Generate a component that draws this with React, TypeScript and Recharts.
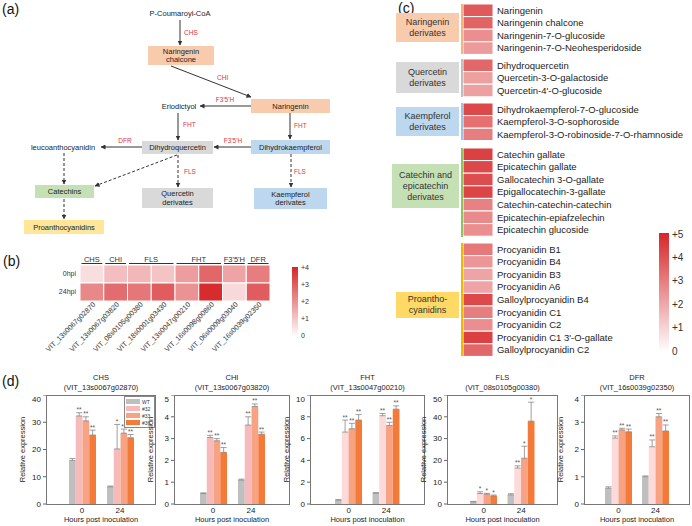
import React from 'react';
import { ScatterChart, Scatter, BarChart, Bar, XAxis, YAxis, ErrorBar, LabelList } from 'recharts';

const FONT = '"Liberation Sans", Arial, Helvetica, sans-serif';
const RED = '#e0383a';

// ---------- panel (b): gene expression heatmap ----------
const geneIds = [
  'VIT_13s0067g02870',
  'VIT_13s0067g03820',
  'VIT_08s0105g00380',
  'VIT_18s0001g03430',
  'VIT_13s0047g00210',
  'VIT_16s0098g00860',
  'VIT_06s0009g03040',
  'VIT_16s0039g02350',
];
const geneEnzymes = ['CHS', 'CHI', 'FLS', 'FHT', "F3'5'H", 'DFR'];
const enzymeSpans = [1, 1, 2, 2, 1, 1];
const hpiRows = ['0hpi', '24hpi'];
const hpi0Fold = [0.6, 1.2, 1.3, 1.1, 1.8, 2.8, 1.7, 2.4];
const hpi24Fold = [2.2, 2.7, 2.5, 3.0, 2.0, 3.9, 0.7, 3.0];
const geneScaleTicks = ['+4', '+3', '+2', '+1', '0'];

// ---------- panel (c): metabolite heatmap ----------
const naringeninNames = ['Naringenin', 'Naringenin chalcone', 'Naringenin-7-O-glucoside', 'Naringenin-7-O-Neohesperidoside'];
const naringeninFold = [3.8, 3.6, 2.6, 2.3];
const quercetinNames = ['Dihydroquercetin', 'Quercetin-3-O-galactoside', "Quercetin-4'-O-glucoside"];
const quercetinFold = [3.5, 2.2, 2.2];
const kaempferolNames = ['Dihydrokaempferol-7-O-glucoside', 'Kaempferol-3-O-sophoroside', 'Kaempferol-3-O-robinoside-7-O-rhamnoside'];
const kaempferolFold = [4.2, 3.3, 3.0];
const catechinNames = [
  'Catechin gallate',
  'Epicatechin gallate',
  'Gallocatechin 3-O-gallate',
  'Epigallocatechin-3-gallate',
  'Catechin-catechin-catechin',
  'Epicatechin-epiafzelechin',
  'Epicatechin glucoside',
];
const catechinFold = [4.4, 4.2, 4.1, 4.3, 2.9, 2.7, 2.6];
const proanthoNames = [
  'Procyanidin B1',
  'Procyanidin B4',
  'Procyanidin B3',
  'Procyanidin A6',
  'Galloylprocyanidin B4',
  'Procyanidin C1',
  'Procyanidin C2',
  "Procyanidin C1 3'-O-gallate",
  'Galloylprocyanidin C2',
];
const proanthoFold = [3.1, 2.4, 2.1, 2.1, 4.2, 3.0, 2.6, 4.4, 3.5];
const metaGroupLabels = [
  ['Naringenin', 'derivates'],
  ['Quercetin', 'derivates'],
  ['Kaempferol', 'derivates'],
  ['Catechin and', 'epicatechin', 'derivates'],
  ['Proantho-', 'cyanidins'],
];
const metaScaleTicks = ['+5', '+4', '+3', '+2', '+1', '0'];

// ---------- panel (d): qRT-PCR bars ----------
const hpiCats = ['0', '24'];
const lineNames = ['WT', '#32', '#33', '#36'];
// each array: one row per line (WT, #32, #33, #36), values at 0 and 24 hpi
const chsMeans = [[16.0, 6.3], [32.3, 20.2], [30.5, 26.0], [25.3, 24.3]];
const chsErrs = [[0.7, 0.3], [1.2, 9.0], [1.5, 1.5], [1.8, 1.2]];
const chsStars = [['', ''], ['**', '*'], ['**', '**'], ['**', '**']];
const chiMeans = [[0.48, 1.1], [3.05, 3.62], [2.9, 4.47], [2.37, 3.2]];
const chiErrs = [[0.03, 0.04], [0.1, 0.38], [0.1, 0.12], [0.22, 0.1]];
const chiStars = [['', ''], ['**', '**'], ['**', '**'], ['**', '**']];
const fhtMeans = [[0.35, 1.0], [6.6, 8.1], [6.9, 7.2], [7.7, 8.7]];
const fhtErrs = [[0.05, 0.04], [1.1, 0.2], [0.5, 0.3], [0.5, 0.3]];
const fhtStars = [['', ''], ['**', '**'], ['**', '**'], ['**', '**']];
const flsMeans = [[1.0, 4.2], [4.8, 16.5], [4.5, 21.0], [3.7, 38.0]];
const flsErrs = [[0.2, 0.5], [0.8, 1.0], [0.4, 5.5], [0.4, 8.7]];
const flsStars = [['', ''], ['*', '**'], ['*', '*'], ['*', '*']];
const dfrMeans = [[0.58, 1.0], [2.42, 2.1], [2.72, 3.2], [2.65, 2.68]];
const dfrErrs = [[0.05, 0.03], [0.08, 0.25], [0.06, 0.12], [0.1, 0.22]];
const dfrStars = [['', ''], ['**', '**'], ['**', '**'], ['**', '**']];

function heat(v: number, max: number) {
  const t = Math.max(0, Math.min(1, v / max));
  const top = [214, 38, 40];
  const c = top.map((h) => Math.round(255 + (h - 255) * t));
  return `rgb(${c[0]},${c[1]},${c[2]})`;
}

function PanelLabel({ text, x, y }: { text: string; x: number; y: number }) {
  return (
    <div style={{ position: 'absolute', left: x, top: y, fontSize: 14, lineHeight: '14px', color: '#111' }}>{text}</div>
  );
}

// ---------- (a) pathway ----------
function PathBox({ x, y, w, h, fill, lines }: any) {
  return (
    <g>
      <rect x={x} y={y} width={w} height={h} fill={fill} />
      {lines.map((t: string, i: number) => (
        <text key={i} x={x + w / 2} y={y + h / 2 + (i - (lines.length - 1) / 2) * 8.5 + 2.7} textAnchor="middle" fontSize={7.5} fill="#222">
          {t}
        </text>
      ))}
    </g>
  );
}

function Arrow({ x1, y1, x2, y2, dashed }: any) {
  return (
    <line x1={x1} y1={y1} x2={x2} y2={y2} stroke="#333" strokeWidth={1} strokeDasharray={dashed ? '3 2' : undefined} markerEnd="url(#ah)" />
  );
}

function Enz({ x, y, t, anchor = 'start' }: any) {
  return (
    <text x={x} y={y} fontSize={6.5} fill={RED} textAnchor={anchor}>
      {t}
    </text>
  );
}

function Pathway() {
  return (
    <svg width={350} height={240} style={{ position: 'absolute', left: 0, top: 0, fontFamily: FONT }}>
      <defs>
        <marker id="ah" markerWidth={5} markerHeight={5} refX={4.5} refY={2.5} orient="auto" markerUnits="userSpaceOnUse">
          <path d="M0,0 L5,2.5 L0,5 z" fill="#333" />
        </marker>
      </defs>
      <text x={180} y={16} textAnchor="middle" fontSize={7.5} fill="#222">P-Coumaroyl-CoA</text>
      <Arrow x1={180} y1={20} x2={180} y2={45} />
      <Enz x={184} y={35} t="CHS" />
      <PathBox x={148} y={46} w={66} h={19} fill="#f8cbad" lines={['Naringenin', 'chalcone']} />
      <Arrow x1={171} y1={66} x2={251} y2={97} />
      <Enz x={217} y={80} t="CHI" />
      <PathBox x={251} y={99} w={79} h={14} fill="#f8cbad" lines={['Naringenin']} />
      <Arrow x1={251} y1={106} x2={200} y2={106} />
      <Enz x={225} y={102} t="F3'5'H" anchor="middle" />
      <text x={179} y={109} textAnchor="middle" fontSize={7.5} fill="#222">Eriodictyol</text>
      <Arrow x1={178} y1={113} x2={178} y2={140} />
      <Enz x={183} y={127} t="FHT" />
      <Arrow x1={290} y1={113} x2={290} y2={139} />
      <Enz x={294} y={128} t="FHT" />
      <PathBox x={142} y={141} w={71} h={13} fill="#d9d9d9" lines={['Dihydroquercetin']} />
      <PathBox x={251} y={140} w={79} h={14} fill="#bdd7ee" lines={['Dihydrokaempferol']} />
      <Arrow x1={251} y1={147} x2={214} y2={147} />
      <Enz x={233} y={143} t="F3'5'H" anchor="middle" />
      <Arrow x1={142} y1={147} x2={101} y2={147} />
      <Enz x={125} y={143} t="DFR" anchor="middle" />
      <text x={63} y={150} textAnchor="middle" fontSize={7.5} fill="#222">leucoanthocyanidin</text>
      <Arrow x1={64} y1={153} x2={64} y2={184} dashed />
      <Arrow x1={177} y1={155} x2={95} y2={186} dashed />
      <Arrow x1={178} y1={155} x2={178} y2={187} dashed />
      <Enz x={184} y={174} t="FLS" />
      <Arrow x1={291} y1={154} x2={291} y2={187} dashed />
      <Enz x={294} y={174} t="FLS" />
      <PathBox x={35} y={185} w={59} h={13} fill="#c5e0b4" lines={['Catechins']} />
      <PathBox x={142} y={188} w={71} h={20} fill="#d9d9d9" lines={['Quercetin', 'derivates']} />
      <PathBox x={254} y={188} w={73} h={21} fill="#bdd7ee" lines={['Kaempferol', 'derivates']} />
      <Arrow x1={64} y1={199} x2={64} y2={219} dashed />
      <PathBox x={24} y={220} w={80} h={14} fill="#ffe699" lines={['Proanthocyanidins']} />
    </svg>
  );
}

// ---------- (b) ----------
const B_LEFT = 80;
const B_TOP = 265;
const B_CW = 23.75;
const B_CH = 18;

function GeneTick({ x, y, payload }: any) {
  const tx = x + 4;
  const ty = y + 4;
  return (
    <text x={tx} y={ty} transform={`rotate(-45 ${tx} ${ty})`} textAnchor="end" fontSize={7.2} fill="#333">
      {payload.value}
    </text>
  );
}

function ColorBar({ left, top, width, height, ticks, fontSize }: any) {
  const id = `cb${left}`;
  return (
    <svg width={width + 30} height={height + 10} style={{ position: 'absolute', left, top: top - 4 }}>
      <defs>
        <linearGradient id={id} x1="0" y1="0" x2="0" y2="1">
          <stop offset="0" stopColor={heat(1, 1)} />
          <stop offset="1" stopColor="#ffffff" />
        </linearGradient>
      </defs>
      <rect x={0} y={4} width={width} height={height} fill={`url(#${id})`} />
      {ticks.map((t: string, i: number) => (
        <text key={t} x={width + 3} y={4 + (i * (height - 2)) / (ticks.length - 1) + fontSize * 0.35 + 1} fontSize={fontSize} fill="#333">
          {t}
        </text>
      ))}
    </svg>
  );
}

function GeneHeatmap() {
  const data = [
    ...geneIds.map((g, i) => ({ gene: g, row: hpiRows[0], v: hpi0Fold[i] })),
    ...geneIds.map((g, i) => ({ gene: g, row: hpiRows[1], v: hpi24Fold[i] })),
  ];
  const yW = 40;
  let col = 0;
  return (
    <>
      <div style={{ position: 'absolute', left: B_LEFT - yW, top: B_TOP }}>
        <ScatterChart width={yW + B_CW * 8} height={B_CH * 2 + 60} margin={{ top: 0, right: 0, bottom: 0, left: 0 }}>
          <XAxis type="category" dataKey="gene" allowDuplicatedCategory={false} height={60} tickLine={false} axisLine={false} tickSize={0} tickMargin={0} interval={0} tick={<GeneTick />} />
          <YAxis type="category" dataKey="row" allowDuplicatedCategory={false} width={yW} reversed tickLine={false} axisLine={false} tickSize={0} tickMargin={4} tick={{ fontSize: 7, fill: '#333' }} />
          <Scatter
            data={data}
            isAnimationActive={false}
            shape={(p: any) => (
              <rect x={p.cx - B_CW / 2} y={p.cy - B_CH / 2} width={B_CW} height={B_CH} fill={heat(p.payload.v, 4)} stroke="#fff" strokeWidth={1} />
            )}
          />
        </ScatterChart>
      </div>
      <svg width={300} height={20} style={{ position: 'absolute', left: 0, top: 250 }}>
        {geneEnzymes.map((e, i) => {
          const x0 = B_LEFT + col * B_CW;
          col += enzymeSpans[i];
          const x1 = B_LEFT + col * B_CW;
          return (
            <g key={e}>
              <line x1={x0 + 1.5} x2={x1 - 1.5} y1={13.5} y2={13.5} stroke="#333" strokeWidth={1} />
              <text x={(x0 + x1) / 2} y={12} textAnchor="middle" fontSize={7.5} fill="#333">{e}</text>
            </g>
          );
        })}
      </svg>
      <ColorBar left={292} top={267} width={6} height={70} ticks={geneScaleTicks} fontSize={7} />
    </>
  );
}

// ---------- (c) ----------
const C_LEFT = 463;
const C_CW = 30;
const C_RH = 12.6;
const metaGroupTops = [3.7, 59.1, 102.7, 148.4, 242.7];
const metaBoxes = [
  { x: 396, y: 13, w: 63, h: 29, fill: '#f8cbad', line: '#f4b183' },
  { x: 396, y: 62, w: 63, h: 31, fill: '#d9d9d9', line: '#bfbfbf' },
  { x: 396, y: 107, w: 63, h: 29, fill: '#bdd7ee', line: '#9dc3e6' },
  { x: 392, y: 164, w: 67, h: 44, fill: '#c5e0b4', line: '#8fc45a' },
  { x: 396, y: 292, w: 63, h: 26, fill: '#ffd966', line: '#f2b800' },
];

function MetaboliteGroup({ names, values, top, idx }: any) {
  const data = names.map((n: string, i: number) => ({ name: n, col: '24hpi', v: values[i] }));
  const box = metaBoxes[idx];
  const h = names.length * C_RH;
  return (
    <>
      <div style={{ position: 'absolute', left: box.x, top: box.y, width: box.w, height: box.h, background: box.fill, display: 'flex', flexDirection: 'column', justifyContent: 'center', alignItems: 'center', fontSize: 9, lineHeight: '11px', color: '#333', textAlign: 'center' }}>
        {metaGroupLabels[idx].map((l) => (
          <div key={l}>{l}</div>
        ))}
      </div>
      <div style={{ position: 'absolute', left: C_LEFT - 2.5, top: top, width: 2, height: h, background: box.line }} />
      <div style={{ position: 'absolute', left: C_LEFT, top }}>
        <ScatterChart width={C_CW + 200} height={h} margin={{ top: 0, right: 0, bottom: 0, left: 0 }}>
          <XAxis type="category" dataKey="col" allowDuplicatedCategory={false} hide />
          <YAxis type="category" dataKey="name" allowDuplicatedCategory={false} orientation="right" width={200} reversed interval={0} tickLine={false} axisLine={false} tickSize={0} tickMargin={4} tick={{ fontSize: 9.5, fill: '#222', textAnchor: 'start' }} />
          <Scatter
            data={data}
            isAnimationActive={false}
            shape={(p: any) => (
              <rect x={p.cx - C_CW / 2} y={p.cy - C_RH / 2} width={C_CW} height={C_RH} fill={heat(p.payload.v, 5)} stroke="#fff" strokeWidth={1} />
            )}
          />
        </ScatterChart>
      </div>
    </>
  );
}

// ---------- (d) ----------
const PLOT_TOP = 395;
const PLOT_H = 109;
const Y_W = 34;
const X_H = 16;
const lineColors = ['#bfbfbf', '#f7baba', '#f6a283', '#f47a3a'];

const chartLayout = [
  { left: 46, width: 110, pad: 17 },
  { left: 174, width: 116, pad: 20 },
  { left: 310, width: 115, pad: 20 },
  { left: 447, width: 111, pad: 18 },
  { left: 584, width: 106, pad: 16 },
];

function ExpressionChart({ title, gene, means, errs, stars, ymax, ticks, layout, pink, legend }: any) {
  const colors = [lineColors[0], pink, lineColors[2], lineColors[3]];
  const data = hpiCats.map((h, i) => {
    const row: any = { hpi: h };
    means.forEach((m: number[], k: number) => {
      row['m' + k] = m[i];
      row['e' + k] = [0, errs[k][i]];
      row['s' + k] = stars[k][i];
    });
    return row;
  });
  const { left, width, pad } = layout;
  const chartW = Y_W + width;
  const starLabel = (k: number) => (p: any) => {
    if (!p.value) return null;
    const e = p.index != null ? errs[k][p.index] : 0;
    const top = p.y - (e / ymax) * PLOT_H;
    return (
      <text x={p.x + p.width / 2} y={top - 0.5} textAnchor="middle" fontSize={6.5} fill="#555">
        {p.value}
      </text>
    );
  };
  return (
    <>
      <div style={{ position: 'absolute', left, top: PLOT_TOP - 22, width, textAlign: 'center', fontSize: 7.5, lineHeight: '10px', color: '#222' }}>
        {title}
        <br />({gene})
      </div>
      <div style={{ position: 'absolute', left: left - Y_W, top: PLOT_TOP }}>
        <BarChart width={chartW} height={PLOT_H + X_H} data={data} margin={{ top: 0, right: 0, bottom: 0, left: 0 }} barGap={0}>
          <XAxis
            dataKey="hpi"
            padding={{ left: pad, right: pad }}
            height={X_H}
            axisLine={false}
            tickLine={false}
            tickSize={2}
            tickMargin={1}
            tick={{ fontSize: 8, fill: '#222' }}
          />
          <YAxis
            width={Y_W}
            domain={[0, ymax]}
            ticks={ticks}
            allowDataOverflow
            axisLine={false}
            tickSize={3}
            tickLine={{ stroke: '#666' }}
            tick={{ fontSize: 8, fill: '#222' }}
            label={{ value: 'Relative expression', angle: -90, position: 'insideLeft', offset: 10, style: { textAnchor: 'middle', fontSize: 7.5, fill: '#222' } }}
          />
          {colors.map((c, k) => (
            <Bar key={k} dataKey={'m' + k} fill={c} barSize={6.75} isAnimationActive={false}>
              <ErrorBar dataKey={'e' + k} width={3} strokeWidth={0.8} stroke="#888" />
              <LabelList dataKey={'s' + k} content={starLabel(k)} />
            </Bar>
          ))}
        </BarChart>
      </div>
      <div style={{ position: 'absolute', left, top: PLOT_TOP, width, height: PLOT_H + 1, border: '1px solid #777', boxSizing: 'border-box', pointerEvents: 'none' }} />
      <div style={{ position: 'absolute', left, top: 515, width, textAlign: 'center', fontSize: 7.5, lineHeight: '9px', color: '#222' }}>
        Hours post inoculation
      </div>
      {legend && (
        <div style={{ position: 'absolute', left: left + width - 32, top: PLOT_TOP + 1, width: 31, border: '0.5px solid #888', background: '#fff', padding: '1px 1px', boxSizing: 'border-box' }}>
          {lineNames.map((n, k) => (
            <div key={n} style={{ display: 'flex', alignItems: 'center', height: 7, fontSize: 5, color: '#333' }}>
              <div style={{ width: 14, height: 5, background: colors[k], marginRight: 2 }} />
              {n}
            </div>
          ))}
        </div>
      )}
    </>
  );
}

export default function App() {
  return (
    <div style={{ position: 'absolute', left: 0, top: 0, width: 692, height: 526, background: '#fff', overflow: 'hidden', fontFamily: FONT }}>
      <Pathway />
      <PanelLabel text="(a)" x={2} y={2} />
      <PanelLabel text="(b)" x={3} y={254} />
      <PanelLabel text="(c)" x={398} y={1} />
      <PanelLabel text="(d)" x={2} y={374} />
      <GeneHeatmap />
      <MetaboliteGroup names={naringeninNames} values={naringeninFold} top={metaGroupTops[0]} idx={0} />
      <MetaboliteGroup names={quercetinNames} values={quercetinFold} top={metaGroupTops[1]} idx={1} />
      <MetaboliteGroup names={kaempferolNames} values={kaempferolFold} top={metaGroupTops[2]} idx={2} />
      <MetaboliteGroup names={catechinNames} values={catechinFold} top={metaGroupTops[3]} idx={3} />
      <MetaboliteGroup names={proanthoNames} values={proanthoFold} top={metaGroupTops[4]} idx={4} />
      <ColorBar left={659} top={233} width={10} height={119} ticks={metaScaleTicks} fontSize={10} />
      <ExpressionChart title="CHS" gene="VIT_13s0067g02870" means={chsMeans} errs={chsErrs} stars={chsStars} ymax={40} ticks={[0, 10, 20, 30, 40]} layout={chartLayout[0]} pink="#f7baba" legend />
      <ExpressionChart title="CHI" gene="VIT_13s0067g03820" means={chiMeans} errs={chiErrs} stars={chiStars} ymax={5} ticks={[0, 1, 2, 3, 4, 5]} layout={chartLayout[1]} pink="#f7baba" />
      <ExpressionChart title="FHT" gene="VIT_13s0047g00210" means={fhtMeans} errs={fhtErrs} stars={fhtStars} ymax={10} ticks={[0, 2, 4, 6, 8, 10]} layout={chartLayout[2]} pink="#fcdada" />
      <ExpressionChart title="FLS" gene="VIT_08s0105g00380" means={flsMeans} errs={flsErrs} stars={flsStars} ymax={50} ticks={[0, 10, 20, 30, 40, 50]} layout={chartLayout[3]} pink="#fcdada" />
      <ExpressionChart title="DFR" gene="VIT_16s0039g02350" means={dfrMeans} errs={dfrErrs} stars={dfrStars} ymax={4} ticks={[0, 1, 2, 3, 4]} layout={chartLayout[4]} pink="#fcdada" />
    </div>
  );
}
